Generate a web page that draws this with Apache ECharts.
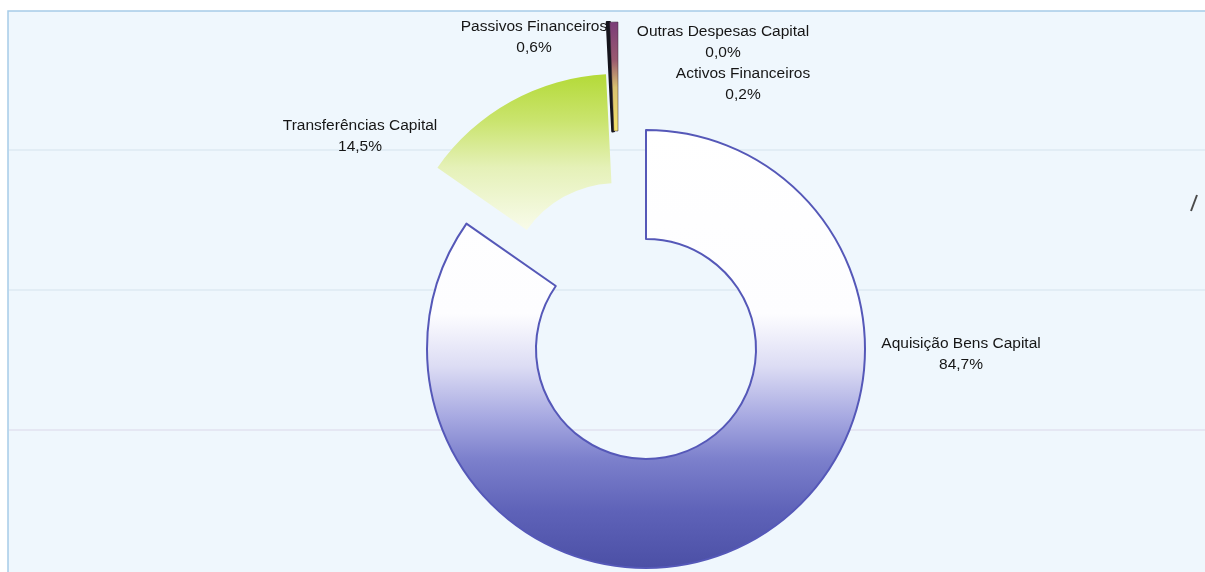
<!DOCTYPE html>
<html>
<head>
<meta charset="utf-8">
<script src="https://cdn.jsdelivr.net/npm/echarts@6/dist/echarts.min.js"></script>
<style>
html, body { margin: 0; padding: 0; background: #ffffff; }
#chart { width: 1205px; height: 572px; }
</style>
</head>
<body>
<div id="chart"></div>
<script>
// Despesas de capital: repartição por agrupamento económico (%)
const categories = [
  'Aquisição Bens Capital',
  'Transferências Capital',
  'Activos Financeiros',
  'Outras Despesas Capital',
  'Passivos Financeiros'
];
const shares = [84.7, 14.5, 0.2, 0.0, 0.6];

// Exploded groups: each group is drawn by its own pie layer with its own centre
const sliceGroup = [0, 1, 2, 2, 2];
const groupCentres = [[646, 349], [617, 293], [618, 241]];

// Centre point of each two-line label
const labelAnchors = [[961, 354], [360, 136], [743, 84], [723, 42], [534, 37]];

const lg = stops => new echarts.graphic.LinearGradient(0, 0, 0, 1,
  stops.map(([offset, color]) => ({ offset, color })));

const fills = [
  lg([[0, '#ffffff'], [0.42, '#fdfdff'], [0.54, '#dcdcf4'], [0.65, '#a9abe2'],
      [0.75, '#7c80cc'], [0.87, '#5e62b8'], [1, '#4b4fa5']]),
  lg([[0, '#b4da38'], [0.3, '#cae46e'], [0.6, '#e5f1b8'], [1, '#f8fbea']]),
  '#1e1c26',
  '#888888',
  lg([[0, '#7a3c78'], [0.35, '#9a5a70'], [0.6, '#d8c070'], [1, '#f4e46a']])
];
const borders = [['#5558b8', 2], ['#e8f2c8', 0], ['#15141c', 2.5], ['#888888', 0], ['#3a2a3a', 0.5]];

const fmt = v => v.toFixed(1).replace('.', ',') + '%';

function buildData(group) {
  return categories.map((name, i) => {
    const vis = sliceGroup[i] === group;
    return {
      name,
      value: shares[i],
      itemStyle: vis
        ? { color: fills[i], borderColor: borders[i][0], borderWidth: borders[i][1] }
        : { color: 'rgba(0,0,0,0)', borderWidth: 0 },
      label: { show: vis }
    };
  });
}

const layers = groupCentres.map((centre, g) => ({
  type: 'pie',
  name: 'grupo' + g,
  center: centre,
  radius: [110, 219],
  startAngle: 90,
  clockwise: true,
  silent: true,
  avoidLabelOverlap: false,
  emphasis: { disabled: true },
  label: {
    show: true,
    position: 'outside',
    formatter: p => p.name + '\n' + fmt(p.value),
    fontFamily: '"Liberation Sans", Arial, sans-serif',
    fontSize: 15.5,
    lineHeight: 21,
    color: '#161616',
    align: 'center'
  },
  labelLine: { show: false },
  labelLayout: p => {
    const a = labelAnchors[p.dataIndex];
    return { x: a[0], y: a[1], align: 'center', verticalAlign: 'middle' };
  },
  data: buildData(g)
}));

const chart = echarts.init(document.getElementById('chart'), null, { renderer: 'canvas' });
chart.setOption({
  animation: false,
  backgroundColor: '#ffffff',
  graphic: [
    { type: 'rect', z: 0, shape: { x: 8, y: 11, width: 1210, height: 570 },
      style: { fill: '#eff7fd', stroke: '#a6cbe8', lineWidth: 1.5 } },
    { type: 'line', z: 0, shape: { x1: 9, y1: 150, x2: 1205, y2: 150 },
      style: { stroke: 'rgba(185,200,220,0.45)', lineWidth: 1 } },
    { type: 'line', z: 0, shape: { x1: 9, y1: 290, x2: 1205, y2: 290 },
      style: { stroke: 'rgba(185,200,220,0.45)', lineWidth: 1 } },
    { type: 'line', z: 0, shape: { x1: 9, y1: 430, x2: 1205, y2: 430 },
      style: { stroke: 'rgba(200,185,215,0.5)', lineWidth: 1 } },
    { type: 'line', z: 0, shape: { x1: 1197, y1: 195, x2: 1191, y2: 211 },
      style: { stroke: '#4a4a4a', lineWidth: 2 } }
  ],
  series: layers
});
</script>
</body>
</html>
